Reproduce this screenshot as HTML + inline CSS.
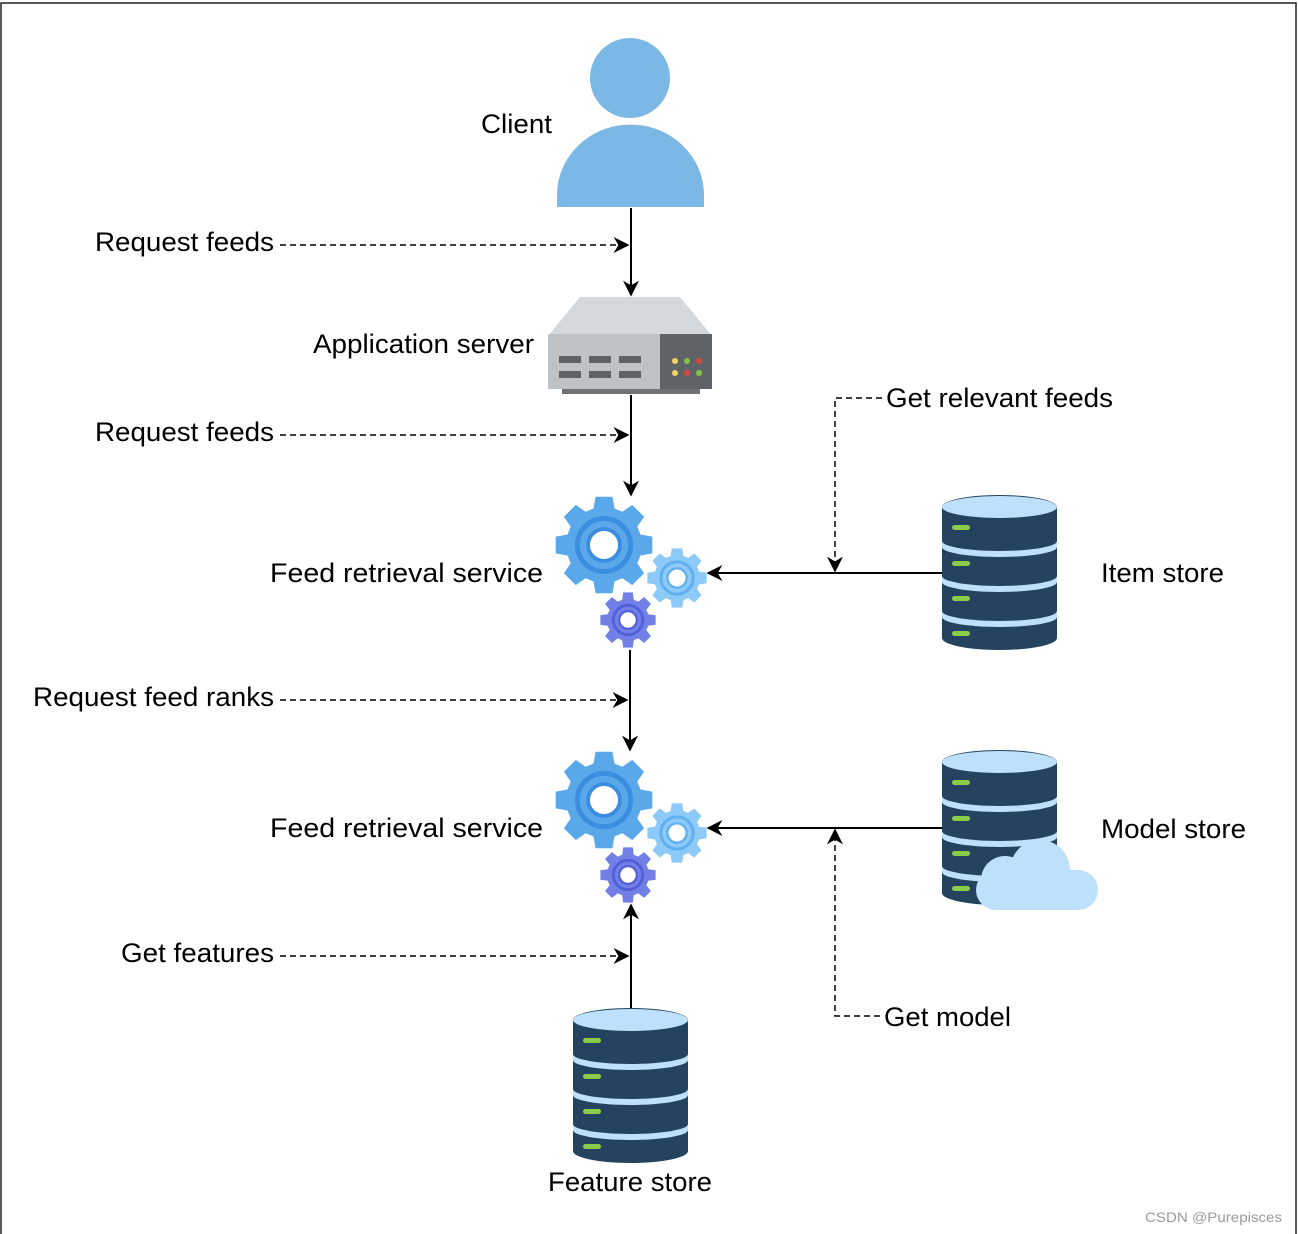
<!DOCTYPE html>
<html><head><meta charset="utf-8"><style>
html,body{margin:0;padding:0;background:#fff}
svg{display:block}
text{font-family:"Liberation Sans",sans-serif;font-size:26.5px;fill:#000}
</style></head><body>
<svg id="s" width="1298" height="1234" viewBox="0 0 1298 1234" xmlns="http://www.w3.org/2000/svg">
<defs>
<marker id="b" viewBox="0 0 10 10" refX="9" refY="5" markerWidth="16" markerHeight="16" orient="auto" markerUnits="userSpaceOnUse"><path d="M0,0 L10,5 L0,10 L3,5 z" fill="#000"/></marker>
<g id="db">
<path d="M0,12 A57.5,12 0 0 1 115,12 L115,143 A57.5,12 0 0 1 0,143 Z" fill="#23435e"/>
<ellipse cx="57.5" cy="12" rx="57.5" ry="11" fill="#bde0fb"/>
<path d="M0,46 A57.5,10 0 0 0 115,46 L115,52 A57.5,10 0 0 1 0,52Z" fill="#bde0fb"/>
<path d="M0,81 A57.5,10 0 0 0 115,81 L115,87 A57.5,10 0 0 1 0,87Z" fill="#bde0fb"/>
<path d="M0,116 A57.5,10 0 0 0 115,116 L115,122 A57.5,10 0 0 1 0,122Z" fill="#bde0fb"/>
<rect x="10" y="30" width="18" height="5" rx="2.5" fill="#8ccc4a"/>
<rect x="10" y="66" width="18" height="5" rx="2.5" fill="#8ccc4a"/>
<rect x="10" y="101" width="18" height="5" rx="2.5" fill="#8ccc4a"/>
<rect x="10" y="136" width="18" height="5" rx="2.5" fill="#8ccc4a"/>
</g>
</defs>
<rect x="1" y="3" width="1295" height="1240" fill="none" stroke="#222" stroke-width="1.5"/>

<circle cx="630" cy="78" r="40" fill="#7bb8e6"/>
<path d="M557,207 L557,195 A73,70 0 0 1 704,195 L704,207 Z" fill="#7bb8e6"/>
<text x="481" y="133" textLength="71" lengthAdjust="spacingAndGlyphs">Client</text>

<path d="M580,297 L680,297 L712,336 L548,336 Z" fill="#d2d8db"/>
<rect x="548" y="334" width="164" height="55" fill="#bcc2c6"/>
<rect x="660" y="334" width="52" height="55" fill="#5f6368"/>
<rect x="562" y="389" width="138" height="5" fill="#6d7275"/>
<g fill="#5f6368"><rect x="559" y="356" width="22" height="7"/><rect x="589" y="356" width="22" height="7"/><rect x="619" y="356" width="22" height="7"/><rect x="559" y="371" width="22" height="7"/><rect x="589" y="371" width="22" height="7"/><rect x="619" y="371" width="22" height="7"/></g>
<circle cx="675" cy="361" r="3" fill="#f2d45c"/><circle cx="687" cy="361" r="3" fill="#84c440"/><circle cx="699" cy="361" r="3" fill="#d9483b"/>
<circle cx="675" cy="373" r="3" fill="#f2d45c"/><circle cx="687" cy="373" r="3" fill="#d9483b"/><circle cx="699" cy="373" r="3" fill="#84c440"/>
<text x="313" y="353" textLength="221" lengthAdjust="spacingAndGlyphs">Application server</text>

<g id="g1"></g>
<g id="g2" transform="translate(0,255)"></g>
<text x="270" y="582" textLength="273" lengthAdjust="spacingAndGlyphs">Feed retrieval  service</text>
<text x="270" y="837" textLength="273" lengthAdjust="spacingAndGlyphs">Feed retrieval  service</text>

<use href="#db" x="942" y="495"/>
<use href="#db" x="942" y="750"/>
<use href="#db" x="573" y="1008"/>
<rect x="976" y="870" width="122" height="40" rx="20" fill="#bde0fb"/>
<circle cx="1040" cy="870" r="30" fill="#bde0fb"/>
<circle cx="1005" cy="880" r="24" fill="#bde0fb"/>
<text x="1101" y="582" textLength="123" lengthAdjust="spacingAndGlyphs">Item store</text>
<text x="1101" y="838" textLength="145" lengthAdjust="spacingAndGlyphs">Model store</text>
<text x="548" y="1191" textLength="164" lengthAdjust="spacingAndGlyphs">Feature store</text>

<g stroke="#000" stroke-width="2" fill="none">
<line x1="631" y1="208" x2="631" y2="295" marker-end="url(#b)"/>
<line x1="631" y1="395" x2="631" y2="495" marker-end="url(#b)"/>
<line x1="630" y1="650" x2="630" y2="750" marker-end="url(#b)"/>
<line x1="631" y1="1008" x2="631" y2="905" marker-end="url(#b)"/>
<line x1="942" y1="573" x2="708" y2="573" marker-end="url(#b)"/>
<line x1="942" y1="828" x2="708" y2="828" marker-end="url(#b)"/>
</g>
<g stroke="#000" stroke-width="1.5" fill="none" stroke-dasharray="6,4">
<line x1="280" y1="245" x2="628" y2="245" marker-end="url(#b)"/>
<line x1="280" y1="435" x2="628" y2="435" marker-end="url(#b)"/>
<line x1="280" y1="700" x2="627" y2="700" marker-end="url(#b)"/>
<line x1="280" y1="956" x2="628" y2="956" marker-end="url(#b)"/>
<path d="M882,398 L835,398 L835,571" marker-end="url(#b)"/>
<path d="M880,1016 L835,1016 L835,830" marker-end="url(#b)"/>
</g>
<text x="95" y="251" textLength="179" lengthAdjust="spacingAndGlyphs">Request feeds</text>
<text x="95" y="441" textLength="179" lengthAdjust="spacingAndGlyphs">Request feeds</text>
<text x="33" y="706" textLength="241" lengthAdjust="spacingAndGlyphs">Request feed ranks</text>
<text x="121" y="962" textLength="153" lengthAdjust="spacingAndGlyphs">Get features</text>
<text x="886" y="407" textLength="227" lengthAdjust="spacingAndGlyphs">Get relevant feeds</text>
<text x="884" y="1026" textLength="127" lengthAdjust="spacingAndGlyphs">Get model</text>
<text x="1145" y="1222" textLength="137" lengthAdjust="spacingAndGlyphs" style="font-size:14px;fill:#9a9a9a">CSDN @Purepisces</text>
</svg>
<script>
function gear(cx,cy,R,r,n,tw){var p=[];for(var i=0;i<n;i++){var a=i*2*Math.PI/n;var w=Math.PI/n*tw;var pts=[[a-w*1.3,r],[a-w*0.8,R],[a+w*0.8,R],[a+w*1.3,r]];pts.forEach(function(q){p.push((cx+q[1]*Math.cos(q[0])).toFixed(1)+','+(cy+q[1]*Math.sin(q[0])).toFixed(1));});}return 'M'+p.join(' L')+'Z';}
var NS="http://www.w3.org/2000/svg";
function add(g,tag,at){var e=document.createElementNS(NS,tag);for(var k in at)e.setAttribute(k,at[k]);g.appendChild(e);}
function build(g){
 var gs=[[604,545,49,38,8,'#5aa8ea','#3b8de0'],[677,578,30,23,8,'#8dcaf7','#5fb0f0'],[628,620,28,21,8,'#717fe6','#5160d8']];
 gs.forEach(function(q){add(g,'path',{d:gear(q[0],q[1],q[2],q[3],q[4],0.55),fill:q[5]});
 add(g,'circle',{cx:q[0],cy:q[1],r:q[3]*0.7,fill:'none',stroke:q[6],'stroke-width':q[2]*0.1});
 add(g,'circle',{cx:q[0],cy:q[1],r:q[3]*0.42,fill:'#fff',stroke:q[6],'stroke-width':q[2]*0.08});});
}
build(document.getElementById('g1'));build(document.getElementById('g2'));
</script>
</body></html>
